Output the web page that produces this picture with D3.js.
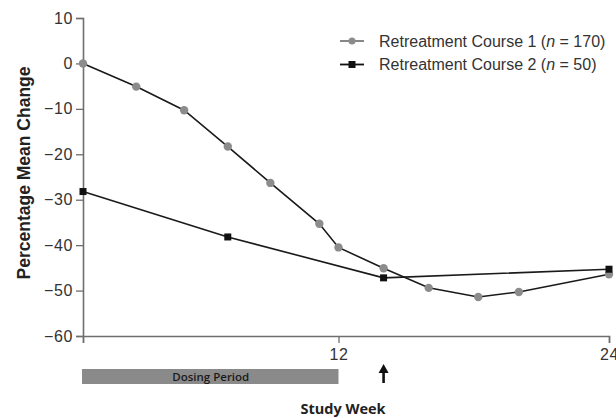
<!DOCTYPE html>
<html>
<head>
<meta charset="utf-8">
<script src="https://cdn.jsdelivr.net/npm/d3@7"></script>
<style>
  html, body { margin: 0; padding: 0; background: #fff; }
  svg { display: block; }
</style>
</head>
<body>
<svg id="chart" width="616" height="418"></svg>
<script>
// Retreatment course 1 (n = 170): study week and percentage mean change
const course1Weeks  = [0, 2.5, 4.75, 6.8, 8.8, 11.1, 12, 14, 16, 18.2, 20, 24];
const course1Change = [0, -5.1, -10.3, -18.3, -26.3, -35.3, -40.5, -45.1, -49.4, -51.4, -50.3, -46.4];

// Retreatment course 2 (n = 50)
const course2Weeks  = [0, 6.8, 14, 24];
const course2Change = [-28.2, -38.2, -47.2, -45.3];

const yTicks = [10, 0, -10, -20, -30, -40, -50, -60];
const xTicks = [0, 12, 24];
const xTickLabels = ["", "12", "24"];
const dosingPeriod = [0, 12];
const retreatWeek = 14;

const svg = d3.select("#chart");
const font = "'Liberation Sans', Arial, Helvetica, sans-serif";
const humanist = "'Open Sans', 'Noto Sans', sans-serif";

// Week axis: the dosing weeks and follow-up weeks each have their own span
const x = d3.scaleLinear().domain([0, 12, 24]).range([83, 338.5, 609]);
const y = d3.scaleLinear().domain([-60, 10]).range([336, 18]);

const axisColor = "#6e6e6e";

// Y axis
const yAxis = svg.append("g")
  .attr("transform", `translate(${x(0)},0)`)
  .call(d3.axisLeft(y).tickValues(yTicks).tickSize(7).tickPadding(3)
    .tickFormat(d => d3.format("d")(d).replace("-", "\u2212")));
yAxis.select(".domain").attr("stroke", axisColor).attr("stroke-width", 1.6);
yAxis.selectAll(".tick line").attr("stroke", axisColor).attr("stroke-width", 1.3);
yAxis.selectAll(".tick text").attr("font-family", font).attr("font-size", 16)
  .attr("letter-spacing", 0.6).attr("fill", "#333");

// X axis
const xAxis = svg.append("g")
  .attr("transform", `translate(0,${y(-60)})`)
  .call(d3.axisBottom(x).tickValues(xTicks).tickSize(7).tickPadding(6)
    .tickFormat((d, i) => xTickLabels[i]));
xAxis.select(".domain").attr("stroke", axisColor).attr("stroke-width", 1.6);
xAxis.selectAll(".tick line").attr("stroke", axisColor).attr("stroke-width", 1.3);
xAxis.selectAll(".tick text").attr("font-family", font).attr("font-size", 16)
  .attr("letter-spacing", 0.6).attr("fill", "#333");

// Axis titles
svg.append("text")
  .attr("transform", "translate(30,173) rotate(-90)")
  .attr("text-anchor", "middle")
  .attr("font-family", font).attr("font-weight", "bold").attr("font-size", 17.5)
  .attr("fill", "#222")
  .text("Percentage Mean Change");

svg.append("text")
  .attr("x", 343).attr("y", 414)
  .attr("text-anchor", "middle")
  .attr("font-family", humanist).attr("font-weight", "bold").attr("font-size", 14.5)
  .attr("fill", "#222")
  .text("Study Week");

// Dosing period bar
svg.append("rect")
  .attr("x", x(dosingPeriod[0]) - 1).attr("y", 369)
  .attr("width", x(dosingPeriod[1]) - x(dosingPeriod[0]) + 1).attr("height", 15)
  .attr("fill", "#8a8a8a");
svg.append("text")
  .attr("x", (x(dosingPeriod[0]) + x(dosingPeriod[1])) / 2).attr("y", 381)
  .attr("text-anchor", "middle")
  .attr("font-family", humanist).attr("font-size", 11.5).attr("font-weight", 600)
  .attr("fill", "#1a1a1a")
  .text("Dosing Period");

// Retreatment arrow
const ax = x(retreatWeek);
svg.append("line")
  .attr("x1", ax).attr("x2", ax).attr("y1", 370).attr("y2", 383)
  .attr("stroke", "#111").attr("stroke-width", 2.6);
svg.append("path")
  .attr("d", `M${ax - 5},${373} L${ax},${364} L${ax + 5},${373} Z`)
  .attr("fill", "#111");

// Series
const line = d3.line().x(d => x(d[0])).y(d => y(d[1]));
const s1 = course1Weeks.map((w, i) => [w, course1Change[i]]);
const s2 = course2Weeks.map((w, i) => [w, course2Change[i]]);

svg.append("path").datum(s2).attr("d", line)
  .attr("fill", "none").attr("stroke", "#1a1a1a").attr("stroke-width", 1.6);
svg.append("path").datum(s1).attr("d", line)
  .attr("fill", "none").attr("stroke", "#1a1a1a").attr("stroke-width", 1.6);

svg.selectAll("circle.c1").data(s1).join("circle")
  .attr("class", "c1")
  .attr("cx", d => x(d[0])).attr("cy", d => y(d[1])).attr("r", 4.2)
  .attr("fill", "#8c8c8c");

svg.selectAll("rect.c2").data(s2).join("rect")
  .attr("class", "c2")
  .attr("x", d => x(d[0]) - 3.5).attr("y", d => y(d[1]) - 3.5)
  .attr("width", 7).attr("height", 7)
  .attr("fill", "#111");

// Legend
const legend = svg.append("g");
const legendRows = [
  { label: "Retreatment Course 1 (", n: "170", stroke: "#7a7a7a", marker: "circle", y: 41 },
  { label: "Retreatment Course 2 (", n: "50", stroke: "#111", marker: "square", y: 64.5 }
];
legendRows.forEach(r => {
  legend.append("line")
    .attr("x1", 340).attr("x2", 364).attr("y1", r.y).attr("y2", r.y)
    .attr("stroke", r.stroke).attr("stroke-width", 1.8);
  if (r.marker === "circle") {
    legend.append("circle").attr("cx", 352).attr("cy", r.y).attr("r", 3.5).attr("fill", "#8c8c8c");
  } else {
    legend.append("rect").attr("x", 348.5).attr("y", r.y - 3.5).attr("width", 7).attr("height", 7).attr("fill", "#111");
  }
  const t = legend.append("text")
    .attr("x", 379).attr("y", r.y + 5.5)
    .attr("font-family", font).attr("font-size", 16).attr("fill", "#333");
  t.append("tspan").text(r.label);
  t.append("tspan").attr("font-style", "italic").text("n");
  t.append("tspan").text(" = " + r.n + ")");
});
</script>
</body>
</html>
